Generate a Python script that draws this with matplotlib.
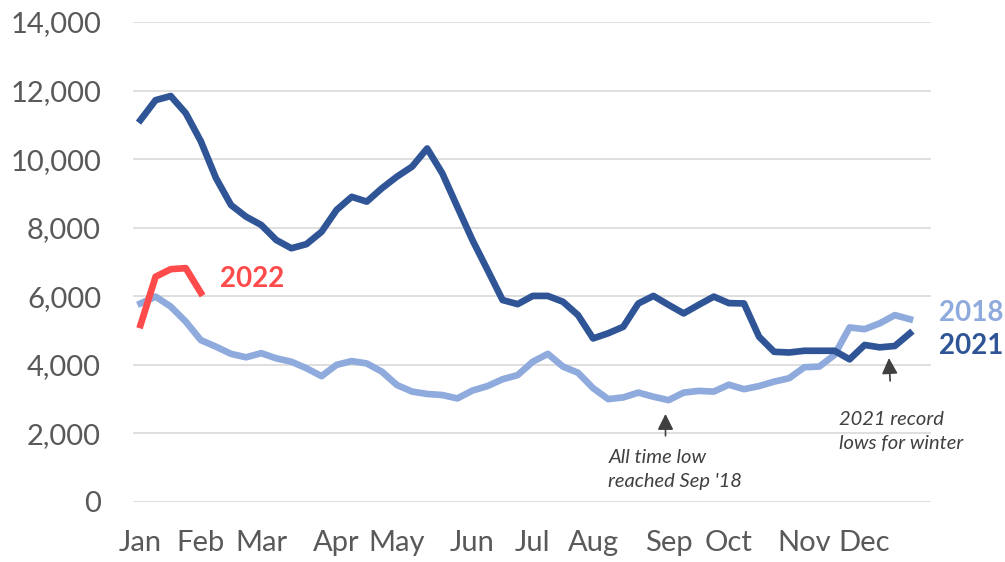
import numpy as np
import matplotlib.pyplot as plt

plt.rcParams['font.family'] = ['Lato', 'DejaVu Sans']

# weekly values, 52 weeks
y2021 = [11140, 11720, 11840, 11340, 10520, 9450, 8660, 8320, 8080, 7640,
         7400, 7520, 7880, 8520, 8900, 8760, 9150, 9490, 9780, 10310,
         9590, 8610, 7640, 6770, 5890, 5770, 6010, 6010, 5840, 5450,
         4770, 4920, 5110, 5790, 6010, 5750, 5500, 5750, 5990, 5800,
         5790, 4820, 4380, 4360, 4410, 4410, 4410, 4160, 4580, 4510,
         4550, 4920]
y2018 = [5790, 5990, 5700, 5260, 4720, 4530, 4320, 4220, 4340, 4190,
         4090, 3900, 3670, 4000, 4110, 4040, 3800, 3410, 3220, 3150,
         3120, 3020, 3250, 3380, 3580, 3700, 4090, 4320, 3950, 3770,
         3320, 3000, 3050, 3190, 3070, 2970, 3190, 3240, 3220, 3420,
         3290, 3380, 3510, 3610, 3930, 3950, 4290, 5090, 5040, 5210,
         5450, 5330]
y2022 = [5160, 6570, 6790, 6820, 6100]

months = ['Jan', 'Feb', 'Mar', 'Apr', 'May', 'Jun', 'Jul', 'Aug', 'Sep', 'Oct', 'Nov', 'Dec']
month_weeks = [0, 4, 8, 13, 17, 22, 26, 30, 35, 39, 44, 48]

c21 = '#2F5597'
c18 = '#8FAADC'
c22 = '#FF4B4B'
grey = '#595959'

fig = plt.figure(figsize=(10.05, 5.62), dpi=100)
ax = fig.add_axes([0.1323, 0.1068, 0.7941, 0.8541])

ax.plot(range(len(y2018)), y2018, color=c18, lw=4.8, solid_joinstyle='round', zorder=3)
ax.plot(range(len(y2021)), y2021, color=c21, lw=4.8, solid_joinstyle='round', zorder=4)
ax.plot(range(len(y2022)), y2022, color=c22, lw=4.8, solid_joinstyle='round', zorder=5)

ax.set_xlim(-0.5, 52.4)
ax.set_ylim(0, 14000)
ax.set_yticks(np.arange(0, 14001, 2000))
ax.set_yticklabels(['{:,}'.format(v) for v in range(0, 14001, 2000)])
ax.set_xticks(month_weeks)
ax.set_xticklabels(months)
ax.tick_params(length=0, labelsize=21, colors=grey)
ax.tick_params(axis='y', pad=23)
ax.tick_params(axis='x', pad=20)
ax.grid(axis='y', color='#D9D9D9', lw=1.2)
ax.set_axisbelow(True)
for s in ax.spines.values():
    s.set_visible(False)

ax.text(5.3, 6500, '2022', color=c22, fontsize=20, fontweight='bold', va='center')
ax.text(52.9, 5500, '2018', color=c18, fontsize=20, fontweight='bold', va='center',
        clip_on=False)
ax.text(52.9, 4550, '2021', color=c21, fontsize=20, fontweight='bold', va='center',
        clip_on=False)

ax.annotate('', xy=(34.8, 2650), xytext=(34.8, 1850),
            arrowprops=dict(arrowstyle='-|>', color='#404040', lw=1.2, mutation_scale=24))
ax.text(31.0, 950, "All time low\nreached Sep '18", fontsize=14.5, style='italic',
        color='#404040', va='center', linespacing=1.5)

ax.annotate('', xy=(49.6, 4280), xytext=(49.7, 3450),
            arrowprops=dict(arrowstyle='-|>', color='#404040', lw=1.2, mutation_scale=24))
ax.text(46.3, 2050, "2021 record\nlows for winter", fontsize=14.5, style='italic',
        color='#404040', va='center', linespacing=1.5)

fig.savefig('out.png', dpi=100)
